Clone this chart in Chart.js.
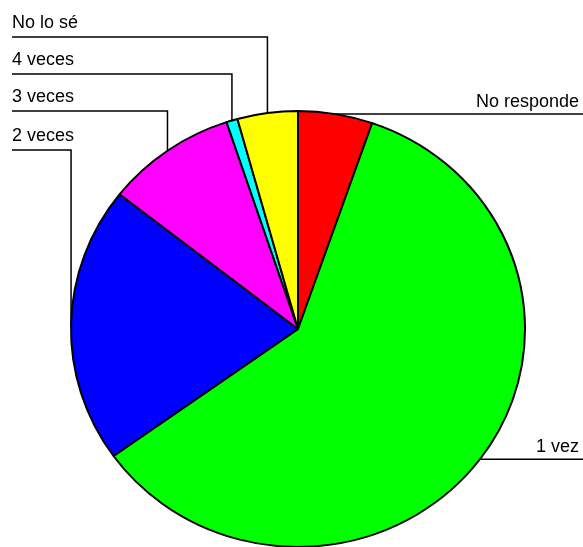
<!DOCTYPE html>
<html>
<head>
<meta charset="utf-8">
<script src="https://cdn.jsdelivr.net/npm/chart.js@4"></script>
<style>
    html, body { margin: 0; padding: 0; background: #fff; overflow: hidden; }
    #wrap { width: 583px; height: 547px; position: relative; }
</style>
</head>
<body>
<div id="wrap"><canvas id="pie"></canvas></div>
<script>
const categories = ['No responde', '1 vez', '2 veces', '3 veces', '4 veces', 'No lo sé'];
const values = [5.3, 59.8, 20.5, 9.3, 0.8, 4.3];
const colors = ['#ff0000', '#00ff00', '#0000ff', '#ff00ff', '#00ffff', '#ffff00'];

// where each label goes: right side labels follow the slice, left ones sit in rows
const labelSide = ['right', 'right', 'left', 'left', 'left', 'left'];
const labelRowY = [null, null, 150, 111, 74, 37];

const SQUASH = 0.96;      // the original pie is slightly flattened
const FONT = '18px "Liberation Sans", Arial, sans-serif';

const squashPlugin = {
    id: 'squash',
    beforeDatasetsDraw(chart) {
        const arc = chart.getDatasetMeta(0).data[0];
        const ctx = chart.ctx;
        ctx.save();
        ctx.translate(arc.x, arc.y);
        ctx.scale(1, SQUASH);
        ctx.translate(-arc.x, -arc.y);
    },
    afterDatasetsDraw(chart) {
        chart.ctx.restore();
    }
};

const leaderPlugin = {
    id: 'leaders',
    afterDraw(chart) {
        const ctx = chart.ctx;
        const arcs = chart.getDatasetMeta(0).data;
        const W = chart.width;
        ctx.save();
        ctx.strokeStyle = '#000';
        ctx.lineWidth = 1.5;
        ctx.fillStyle = '#000';
        ctx.font = FONT;
        ctx.textBaseline = 'alphabetic';
        arcs.forEach((arc, i) => {
            const p = arc.getProps(['x', 'y', 'startAngle', 'endAngle', 'outerRadius'], true);
            const mid = (p.startAngle + p.endAngle) / 2;
            const ax = p.x + Math.cos(mid) * p.outerRadius;
            const ay = p.y + Math.sin(mid) * p.outerRadius * SQUASH;
            ctx.beginPath();
            if (labelSide[i] === 'right') {
                ctx.moveTo(ax, ay);
                ctx.lineTo(W, ay);
                ctx.stroke();
                ctx.textAlign = 'right';
                ctx.fillText(categories[i], W - 4, ay - 7);
            } else {
                const ry = labelRowY[i];
                ctx.moveTo(12, ry);
                ctx.lineTo(ax, ry);
                ctx.lineTo(ax, ay);
                ctx.stroke();
                ctx.textAlign = 'left';
                ctx.fillText(categories[i], 12, ry - 9);
            }
        });
        ctx.restore();
    }
};

new Chart(document.getElementById('pie').getContext('2d'), {
    type: 'pie',
    data: {
        labels: categories,
        datasets: [{
            data: values,
            backgroundColor: colors,
            borderColor: '#000000',
            borderWidth: 2,
            clip: false
        }]
    },
    options: {
        responsive: true,
        maintainAspectRatio: false,
        animation: false,
        radius: 227,
        layout: { padding: { left: 13, right: 0, top: 111, bottom: 0 } },
        plugins: {
            legend: { display: false },
            tooltip: { enabled: false }
        }
    },
    plugins: [squashPlugin, leaderPlugin]
});
</script>
</body>
</html>
